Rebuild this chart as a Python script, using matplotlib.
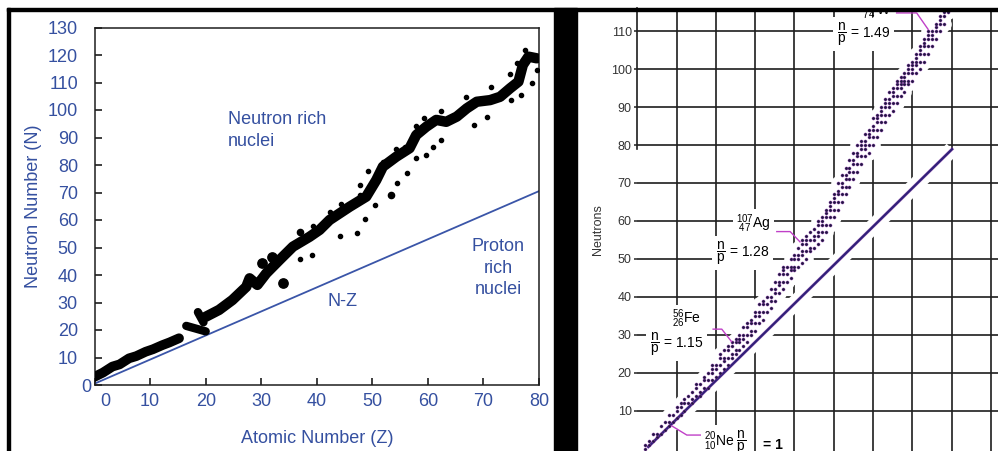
import matplotlib
matplotlib.use('Agg')
import matplotlib.pyplot as plt
from matplotlib.patches import Rectangle
from matplotlib.transforms import ScaledTranslation
import matplotlib.patheffects as pe

plt.rcParams['font.family'] = ['Liberation Sans', 'DejaVu Sans']
plt.rcParams['mathtext.fontset'] = 'custom'
plt.rcParams['mathtext.rm'] = 'Liberation Sans'
plt.rcParams['mathtext.it'] = 'Liberation Sans:italic'
plt.rcParams['mathtext.bf'] = 'Liberation Sans:bold'

W, H = 998, 451
BLUE = '#3550a0'
INK = '#1e1e1e'

# ---------- left chart data (Z, N) ----------
band1_z = [0, 1.5, 3.2, 4.5, 6.2, 7.5, 9.2, 10.5, 12.2, 13.5, 15.2]
band1_n = [3, 4.5, 6.7, 7.5, 9.7, 10.5, 12.1, 13, 14.5, 15.5, 17]
blob_a_z = [16.5, 20]
blob_a_n = [21.5, 19.5]
blob_b_z = [18.6, 19.6]
blob_b_n = [26.5, 22.8]
band2_z = [20, 22.4, 24.8, 27.3, 27.9, 29.3, 30.9, 33.3, 35.7, 38.7, 40.5, 42.3,
           45.9, 48.9, 50.7, 51.9, 54.3, 56.7, 57.9, 59.7, 61.5, 63.3, 65.2, 67,
           68.8, 71.2, 73, 74.8, 76.3, 77.1, 78.1, 79.6]
band2_n = [24.8, 27.3, 30.9, 35.7, 38.8, 36.4, 40.6, 45.5, 50.3, 53.9, 56.4, 60,
           64.8, 68.5, 74.5, 79.4, 83, 86.1, 90.9, 93.9, 96.4, 95.7, 97.6, 100.6,
           103, 103.6, 104.8, 107.9, 110.3, 116.4, 119.4, 118.8]
dots_z = [77.4, 76.1, 74.8, 79.6, 78.7, 75, 76.8, 71.3, 70.7, 68.3, 66.8, 62.3,
          59.3, 62.3, 61, 59.6, 57.8, 55.8, 54.2, 52, 57.8, 49.3, 47.7, 56.3,
          54.5, 47.8, 50.5, 44.3, 42.3, 48.7, 39.4, 44.2, 47.2, 39.1, 36.9]
dots_n = [122, 117, 113, 114.5, 110, 103.6, 105.5, 108.3, 97.6, 94.5, 104.6, 99.6,
          97.2, 89, 86.7, 83.6, 94.2, 86.7, 85.7, 81.2, 82.4, 77.8, 72.7, 77.2,
          73.3, 69.1, 65.5, 66, 63, 60.2, 57.8, 54.2, 55.4, 47.3, 45.7]
mid_z = [53.4, 36.9]
mid_n = [69.1, 55.7]
big_z = [31.9, 30.1, 34]
big_n = [46.7, 44.2, 37]
nz_z = [0, 80]
nz_n = [0.5, 70.5]

# ---------- right chart data (protons, neutrons) ----------
stable_cols = {
    2: [0, 1], 3: [1, 2], 4: [2, 4], 5: [3, 4], 6: [4, 6], 7: [5, 7],
    8: [6, 7, 9], 9: [7, 9], 10: [8, 10, 11], 11: [9, 11, 12], 12: [10, 12, 13],
    13: [12, 14], 14: [12, 13, 15], 15: [14, 16, 17], 16: [14, 15, 17],
    17: [16, 18, 19], 18: [16, 18, 20], 19: [18, 20, 21, 22], 20: [19, 21, 22],
    21: [20, 22, 24, 25], 22: [21, 23, 24, 26], 23: [22, 24, 26, 27],
    24: [24, 25, 27, 28], 25: [25, 26, 28, 29], 26: [26, 28, 29, 30],
    27: [27, 29, 30, 32], 28: [28, 30, 32, 33], 29: [30, 31, 33, 34],
    30: [31, 33, 35, 36], 31: [33, 35, 36, 38], 32: [34, 36, 38, 39],
    33: [36, 38, 40], 34: [37, 39, 40, 42], 35: [39, 41, 42, 44],
    36: [41, 43, 44, 46], 37: [42, 44, 46, 47, 48], 38: [44, 46, 48],
    39: [45, 47, 48, 50], 40: [47, 48, 50, 51], 41: [48, 50, 51, 53],
    42: [49, 51, 52, 54, 55], 43: [50, 52, 54, 55, 56], 44: [52, 53, 55, 57],
    45: [53, 55, 56, 58], 46: [54, 56, 57, 59, 60], 47: [55, 57, 59, 60, 61],
    48: [57, 59, 61, 62, 63], 49: [59, 61, 63, 64, 65], 50: [61, 63, 65, 66, 67],
    51: [63, 65, 67, 68, 70], 52: [65, 67, 69, 70, 72], 53: [67, 69, 71, 72, 74],
    54: [69, 71, 73, 74, 76], 55: [71, 73, 75, 76, 78], 56: [73, 75, 77, 78, 80],
    57: [75, 77, 79, 80, 81], 58: [77, 79, 80, 81, 83], 59: [78, 80, 82, 83, 84],
    60: [80, 82, 84, 85, 87], 61: [82, 84, 86, 87, 88], 62: [84, 86, 88, 89, 90],
    63: [86, 88, 90, 91, 92], 64: [88, 90, 91, 92, 94], 65: [89, 91, 93, 94, 95],
    66: [91, 93, 95, 96, 97], 67: [93, 95, 96, 97, 98], 68: [94, 96, 97, 98, 99],
    69: [96, 97, 99, 100, 101], 70: [97, 99, 100, 101, 102],
    71: [99, 101, 102, 103, 104], 72: [100, 102, 104, 105, 106],
    73: [102, 104, 106, 107, 108], 74: [104, 106, 108, 109, 110],
    75: [106, 108, 109, 110], 76: [108, 110, 111, 112], 77: [110, 112, 113, 114],
    78: [112, 114, 115], 79: [115],
}
dot_p = [z for z, ns in stable_cols.items() for n in ns]
dot_n = [n for z, ns in stable_cols.items() for n in ns]
diag_p = [2.8, 80.1]
diag_n = [0.5, 78.9]

labels_r = [
    (r'$\dfrac{\mathrm{n}}{\mathrm{p}}$ = 1.49', 50.8, 109.2),
    (r'$\dfrac{\mathrm{n}}{\mathrm{p}}$ = 1.28', 20.0, 51.5),
    (r'$\dfrac{\mathrm{n}}{\mathrm{p}}$ = 1.15', 3.2, 27.6),
]
nuclides = [
    (r'${}^{107}_{\ 47}$Ag', 25.1, 59.4),
    (r'${}^{56}_{26}$Fe', 8.8, 34.2),
    (r'${}^{20}_{10}$Ne $\dfrac{\mathrm{n}}{\mathrm{p}}$', 17.0, 1.8),
]
top_label = (r'${}^{184}_{\ 74}$W', 56.6, 115.4)
leaders = [
    ([66.0, 71.1, 74.0], [114.8, 114.8, 110.5]),
    ([35.5, 38.9, 41.4], [57.2, 57.2, 54.5]),
    ([19.3, 21.5, 24.0], [31.5, 31.5, 28.2]),
    ([16.4, 12.6, 8.8], [3.6, 3.6, 6.0]),
]

fig = plt.figure(figsize=(W / 100, H / 100), dpi=100)


def fx(px):
    return px / W


def fy(py):
    return 1 - py / H


# ---------- left chart ----------
axl = fig.add_axes([fx(94.6), fy(385), fx(539) - fx(94.6), fy(27.5) - fy(385)])
axl.set_xlim(0, 80)
axl.set_ylim(0, 130)
axl.set_xticks(range(0, 90, 10))
axl.set_yticks(range(0, 140, 10))
axl.tick_params(direction='in', length=5, width=1.2, colors=INK,
                labelcolor=BLUE, labelsize=13)
axl.tick_params(axis='y', pad=12)
axl.tick_params(axis='x', pad=6)
for s in axl.spines.values():
    s.set_linewidth(1.1)
    s.set_color(INK)

axl.plot(nz_z, nz_n, color='#3a55a8', lw=1.3, zorder=2)
for bz, bn, lw in [(band1_z, band1_n, 7), (blob_a_z, blob_a_n, 6),
                   (blob_b_z, blob_b_n, 6), (band2_z, band2_n, 7.5)]:
    axl.plot(bz, bn, color='black', lw=lw, solid_capstyle='round',
             solid_joinstyle='round', zorder=3)
axl.scatter(dots_z, dots_n, s=9, color='black', zorder=3)
axl.scatter(mid_z, mid_n, s=20, color='black', zorder=3)
axl.scatter(big_z, big_n, s=45, color='black', zorder=3)

axl.set_xlabel('Atomic Number (Z)', fontsize=13, color=BLUE, labelpad=14)
axl.set_ylabel('Neutron Number (N)', fontsize=13, color=BLUE, labelpad=4)
axl.text(24, 92.5, 'Neutron rich\nnuclei', fontsize=13, color=BLUE,
         ha='left', va='center', linespacing=1.35)
axl.text(72.7, 42.5, 'Proton\nrich\nnuclei', fontsize=13, color=BLUE,
         ha='center', va='center', linespacing=1.35)
axl.text(44.6, 30.3, 'N-Z', fontsize=13, color=BLUE, ha='center', va='center')

xl0 = axl.get_xticklabels()[0]
xl0.set_transform(xl0.get_transform() + ScaledTranslation(8 / 72, 0, fig.dpi_scale_trans))
yl0 = axl.get_yticklabels()[0]
yl0.set_transform(yl0.get_transform() + ScaledTranslation(10 / 72, 0, fig.dpi_scale_trans))

# ---------- right chart ----------
axr = fig.add_axes([fx(637.3), 0, 1 - fx(637.3), fy(8)])
axr.set_xlim(0, 91.8)
axr.set_ylim(-0.6, 116.1)
axr.set_xticks(range(10, 100, 10))
axr.set_yticks(range(10, 120, 10))
axr.set_axisbelow(True)
axr.grid(True, color=INK, lw=1.2)
axr.tick_params(axis='x', length=0, labelbottom=False)
axr.tick_params(axis='y', length=2, width=1.2, pad=2, labelsize=9, colors='#333333')
for s in axr.spines.values():
    s.set_visible(False)
axr.axvline(0, ymin=(79 + 0.6) / 116.7, color=INK, lw=1.2, clip_on=False)
axr.set_ylabel('Neutrons', fontsize=9, color='#333333', labelpad=5)

axr.plot(diag_p, diag_n, color='white', lw=11, zorder=2, solid_capstyle='butt')
axr.scatter(dot_p, dot_n, s=90, color='white', zorder=2)
axr.plot(diag_p, diag_n, color='#32207a', lw=1.7, zorder=3,
         path_effects=[pe.Stroke(linewidth=2.3, foreground='#a040b0', alpha=0.5), pe.Normal()])
axr.scatter(dot_p, dot_n, s=5, marker='o', color='#1f1840', edgecolors='#8a3aa8',
            linewidths=0.3, zorder=4)

for lx, ly in leaders:
    axr.plot(lx, ly, color='#c040c8', lw=1.0, zorder=5)
for txt, x, y in labels_r:
    axr.text(x, y, txt, fontsize=10, ha='left', va='center', zorder=6,
             bbox=dict(facecolor='white', edgecolor='none', pad=2.5))
for txt, x, y in nuclides:
    axr.text(x, y, txt, fontsize=10, ha='left', va='center', zorder=6,
             bbox=dict(facecolor='white', edgecolor='none', pad=2))
axr.text(top_label[1], top_label[2], top_label[0], fontsize=10, ha='left',
         va='center', zorder=6, clip_on=True)
axr.text(32.0, 1.0, '= 1', fontsize=10, fontweight='bold', ha='left', va='center',
         zorder=6, bbox=dict(facecolor='white', edgecolor='none', pad=2))

# ---------- scan frame ----------
fig.add_artist(Rectangle((fx(7), fy(451)), fx(3), fy(8) - fy(451), color='black',
                         transform=fig.transFigure, zorder=20))
fig.add_artist(Rectangle((fx(7), fy(11)), fx(991), fy(8) - fy(11), color='black',
                         transform=fig.transFigure, zorder=20))
fig.add_artist(Rectangle((fx(554), fy(451)), fx(23), fy(8) - fy(451), color='black',
                         transform=fig.transFigure, zorder=20))

fig.savefig('out.png', dpi=100)
